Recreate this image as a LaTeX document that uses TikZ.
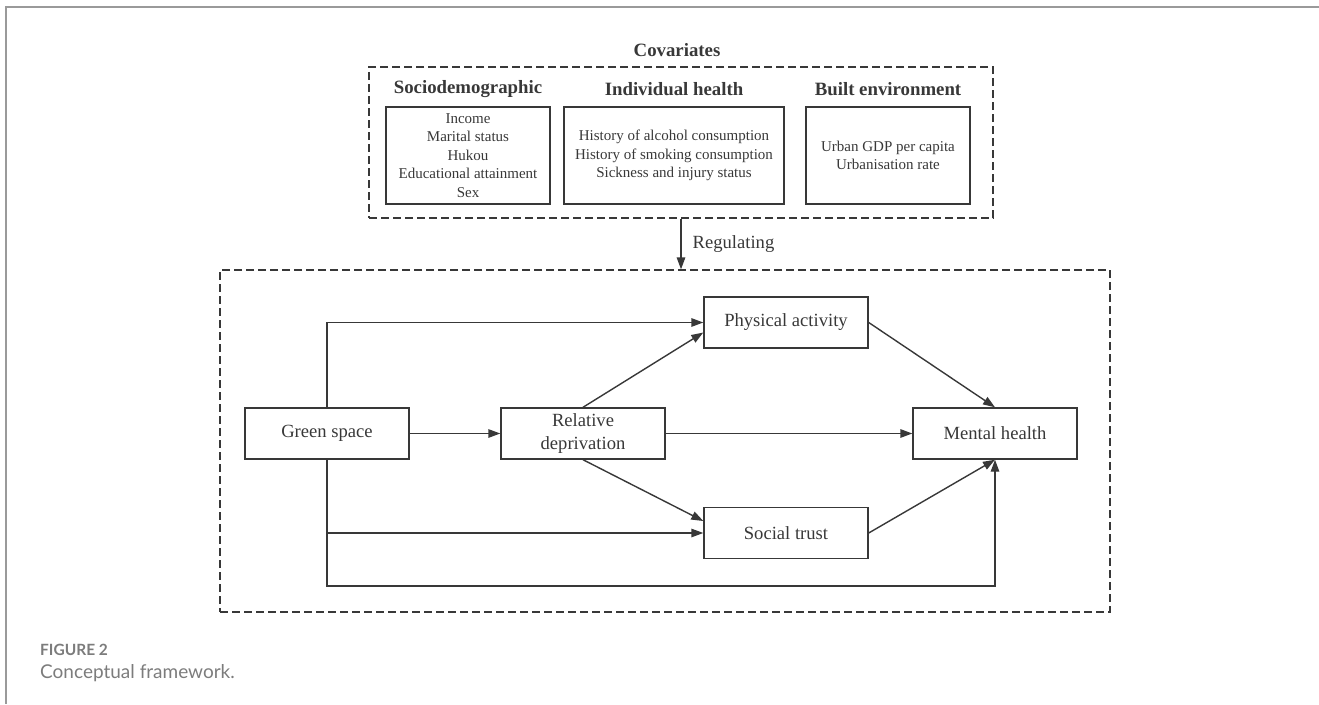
\documentclass[tikz,border=0pt]{standalone}
\usepackage{fontspec}
\setmainfont{Liberation Serif}
\newfontfamily\capfont{Lato}
\usetikzlibrary{arrows.meta, positioning}

\definecolor{linegray}{HTML}{383838}
\definecolor{framegray}{HTML}{9A9A9A}
\definecolor{capgray}{HTML}{7C7C7C}

\begin{document}
\begin{tikzpicture}[x=1pt, y=-1pt, on grid, node distance=100pt,
    every node/.style={text=linegray},
    box/.style={draw=linegray, line width=1.4pt, minimum width=164pt, minimum height=51pt, inner sep=0pt, align=center, font=\fontsize{18.6}{22.5}\selectfont},
    covbox/.style={draw=linegray, line width=1.4pt, minimum height=97pt, inner sep=0pt, align=center, font=\fontsize{15}{18.6}\selectfont},
    covhead/.style={inner sep=0pt, font=\fontsize{18.8}{22}\selectfont\bfseries},
    dashbox/.style={draw=linegray, line width=1.3pt, dash pattern=on 8pt off 4pt, inner sep=0pt},
    arr/.style={draw=linegray, line width=1.4pt, -{Triangle[length=12pt, width=8.5pt]}}]
    \useasboundingbox (0,0) rectangle (1319,704);
    \draw[framegray, line width=2pt] (1319,7) -- (6,7) -- (6,704);

    \node[covhead] (covtitle) at (677,50) {Covariates};
    \node[dashbox, minimum width=624pt, minimum height=151pt] (cov) at (681,142.5) {};
    \node[covbox, minimum width=164pt] (socio) at (468,155.5) {Income\\Marital status\\Hukou\\Educational attainment\\Sex};
    \node[covbox, minimum width=220pt] (indiv) [right=206pt of socio] {History of alcohol consumption\\History of smoking consumption\\Sickness and injury status};
    \node[covbox, minimum width=164pt] (built) [right=214pt of indiv] {Urban GDP per capita\\Urbanisation rate};
    \node[covhead] (sociohead) [above=66.5pt of socio] {Sociodemographic};
    \node[covhead] (indivhead) [above=66.5pt of indiv] {Individual health};
    \node[covhead] (builthead) [above=66.5pt of built] {Built environment};

    \node[dashbox, minimum width=890pt, minimum height=342pt] (frame) at (665,441) {};
    \node[box] (green) at (327,433.5) {Green space};
    \node[box] (reldep) [right=256pt of green] {Relative\\deprivation};
    \node[box] (mental) [right=412pt of reldep] {Mental health};
    \node[box] (phys) [above right=111pt and 203pt of reldep] {Physical activity};
    \node[box] (social) [below right=99.5pt and 203pt of reldep] {Social trust};
    \coordinate (corner) at (327,586);

    \draw[arr] (cov.south) -- (cov.south |- frame.north)
        node[midway, right=11pt, inner sep=0pt, font=\fontsize{18.6}{22}\selectfont] (reglabel) {Regulating};
    \draw[arr] (green) -- (reldep);
    \draw[arr] (reldep) -- (mental);
    \draw[arr] (reldep.north) -- ([yshift=-10pt]phys.west);
    \draw[arr] (reldep.south) -- ([yshift=12pt]social.west);
    \draw[arr] (phys.east) -- (mental.north);
    \draw[arr] (social.east) -- (mental.south);
    \draw[arr] (green.north) |- (phys.west);
    \draw[arr] (green.south) |- (social.west);
    \draw[arr] (green.south) -- (corner) -| (mental.south);

    \node[anchor=base west, inner sep=0pt, text=capgray, font=\capfont\bfseries\fontsize{15.5}{18}\selectfont] (figlabel) at (40,655) {FIGURE 2};
    \node[anchor=base west, inner sep=0pt, text=capgray, font=\capfont\fontsize{19}{22}\selectfont] (figcaption) at (40,678) {Conceptual framework.};
\end{tikzpicture}
\end{document}
